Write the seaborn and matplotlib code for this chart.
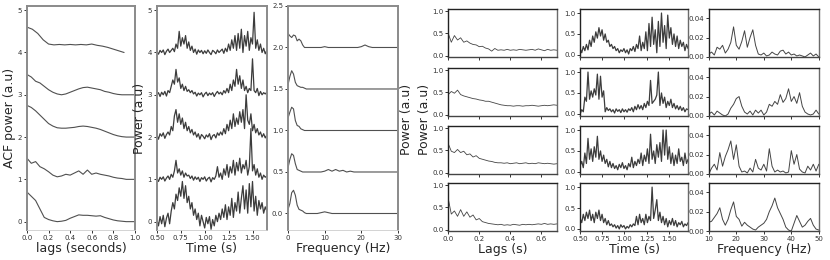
import numpy as np
import pandas as pd
import matplotlib
matplotlib.use("Agg")
import matplotlib.pyplot as plt
import seaborn as sns

# ---------------- data ----------------
# left group, panel 1: autocorrelation, 5 stacked traces (offset 0..4)
acf_0 = [0.70, 0.60, 0.50, 0.30, 0.10, 0.05, 0.02, 0.00, 0.01, 0.03, 0.08, 0.12, 0.16,
         0.15, 0.15, 0.14, 0.13, 0.14, 0.10, 0.07, 0.04, 0.02, 0.01, 0.00, 0.00, 0.00]
acf_1 = [0.50, 0.38, 0.42, 0.30, 0.25, 0.18, 0.10, 0.06, 0.08, 0.12, 0.10, 0.15, 0.20,
         0.12, 0.22, 0.12, 0.15, 0.12, 0.10, 0.08, 0.05, 0.03, 0.02, 0.00, 0.00, 0.00]
acf_2 = [0.75, 0.70, 0.62, 0.52, 0.42, 0.32, 0.26, 0.22, 0.21, 0.21, 0.22, 0.23, 0.25,
         0.26, 0.25, 0.23, 0.21, 0.18, 0.14, 0.10, 0.06, 0.03, 0.01, 0.00, 0.00, 0.00]
acf_3 = [0.48, 0.42, 0.32, 0.28, 0.20, 0.12, 0.06, 0.02, 0.00, 0.02, 0.06, 0.10, 0.14,
         0.17, 0.18, 0.16, 0.14, 0.12, 0.08, 0.06, 0.03, 0.01, 0.00, 0.00, 0.00, 0.00]
acf_4 = [0.60, 0.55, 0.45, 0.30, 0.20, 0.18, 0.19, 0.18, 0.19, 0.18, 0.19, 0.18, 0.20,
         0.17, 0.15, 0.12, 0.08, 0.04, 0.00]

# left group, panel 2: power over time, 5 stacked traces
pow_0 = [0.05, -0.10, 0.12, -0.05, 0.15, -0.12, 0.08, 0.20, -0.05, 0.25,
         0.45, 0.30, 0.65, 0.50, 0.80, 0.60, 0.95, 0.55, 0.85, 0.45,
         0.60, 0.30, 0.45, 0.15, 0.30, 0.05, 0.20, -0.10, 0.15, 0.00,
         -0.15, 0.10, -0.05, 0.12, -0.18, 0.05, -0.10, 0.15, 0.00, 0.20,
         0.05, 0.30, 0.10, 0.40, 0.05, 0.35, 0.15, 0.55, 0.10, 0.45,
         0.25, 0.70, 0.20, 0.55, 0.85, 0.30, 0.75, 0.20, 0.90, 0.35,
         0.95, 0.25, 0.60, 0.15, 0.50, 0.30, 0.45, 0.20, 0.35, 0.25]
pow_1 = [0.02, -0.05, 0.05, 0.00, 0.06, -0.04, 0.03, 0.08, 0.00, 0.12,
         0.05, 0.20, 0.45, 0.15, 0.25, 0.10, 0.20, 0.05, 0.15, 0.08,
         0.10, 0.02, 0.08, -0.02, 0.06, 0.00, 0.05, -0.05, 0.04, 0.00,
         0.06, -0.04, 0.02, 0.05, -0.06, 0.04, 0.00, 0.08, 0.30, 0.05,
         0.15, 0.00, 0.25, 0.10, 0.35, 0.05, 0.30, 0.15, 0.45, 0.10,
         0.40, 0.20, 0.50, 0.15, 0.35, 0.25, 0.45, 0.10, 0.30, 1.20,
         0.20, 0.35, 0.10, 0.25, 0.05, 0.15, 0.00, 0.10, 0.05, 0.08]
pow_2 = [0.05, -0.05, 0.08, 0.02, 0.10, -0.03, 0.06, 0.12, 0.05, 0.25,
         0.15, 0.50, 0.65, 0.35, 0.55, 0.30, 0.45, 0.20, 0.35, 0.15,
         0.25, 0.10, 0.18, 0.05, 0.12, 0.00, 0.08, -0.05, 0.06, 0.02,
         -0.04, 0.05, 0.00, 0.08, -0.06, 0.03, 0.06, -0.02, 0.10, 0.04,
         0.12, 0.05, 0.20, 0.08, 0.30, 0.15, 0.40, 0.20, 0.55, 0.25,
         0.45, 0.30, 0.60, 0.35, 0.65, 0.20, 1.00, 0.40, 0.30, 0.55,
         0.15, 0.30, 0.10, 0.20, 0.05, 0.12, 0.00, 0.08, -0.02, 0.05]
pow_3 = [0.00, 0.05, -0.04, 0.06, 0.00, 0.08, -0.03, 0.10, 0.05, 0.20,
         0.35, 0.25, 0.60, 0.30, 0.40, 0.15, 0.25, 0.10, 0.20, 0.08,
         0.12, 0.05, 0.10, 0.02, 0.06, -0.03, 0.04, 0.00, 0.05, -0.05,
         0.02, 0.06, -0.02, 0.04, 0.00, 0.05, -0.04, 0.03, 0.08, 0.02,
         0.06, 0.00, 0.10, 0.04, 0.15, 0.05, 0.25, 0.10, 0.35, 0.20,
         0.60, 0.25, 0.45, 0.15, 0.35, 0.10, 0.20, 0.05, 0.15, 0.10,
         0.85, 0.10, 0.05, 0.15, -0.02, 0.08, 0.00, 0.05, 0.02, 0.06]
pow_4 = [0.02, -0.04, 0.05, 0.00, 0.06, -0.05, 0.03, 0.08, 0.00, 0.05,
         0.10, 0.02, 0.20, 0.10, 0.50, 0.15, 0.35, 0.20, 0.40, 0.10,
         0.25, 0.05, 0.15, 0.00, 0.08, -0.04, 0.06, 0.00, 0.05, -0.03,
         0.04, -0.02, 0.06, 0.00, -0.05, 0.05, 0.02, -0.03, 0.06, 0.00,
         0.04, 0.08, -0.02, 0.10, 0.02, 0.20, 0.05, 0.30, 0.10, 0.40,
         0.05, 0.45, 0.10, 0.55, 0.00, 0.40, 0.15, 0.50, 0.05, 0.35,
         0.20, 0.95, 0.10, 0.30, 0.05, 0.20, 0.00, 0.10, -0.03, 0.05]

# left group, panel 3: spectra, 5 stacked traces (offset 0..2 by 0.5)
freq_left = [0, 0.5, 1, 1.5, 2, 2.5, 3, 3.5, 4, 4.5, 5, 6, 7, 8, 9, 10, 11, 12,
             13, 14, 15, 16, 17, 18, 19, 20, 21, 22, 23, 24, 25, 26, 27, 28, 29, 30]
spec_0 = [0.05, 0.12, 0.25, 0.28, 0.22, 0.10, 0.05, 0.04, 0.03, 0.01, 0.00, 0.00,
          0.00, 0.00, 0.01, 0.02, 0.01, 0.00, 0.00, 0.00, 0.00, 0.00, 0.00, 0.00,
          0.00, 0.00, 0.00, 0.00, 0.00, 0.00, 0.00, 0.00, 0.00, 0.00, 0.00, 0.00]
spec_1 = [0.05, 0.15, 0.22, 0.20, 0.10, 0.03, 0.02, 0.01, 0.00, 0.00, 0.00, 0.00,
          0.00, 0.00, 0.00, 0.01, 0.03, 0.01, 0.03, 0.01, 0.02, 0.00, 0.01, 0.00,
          0.00, 0.00, 0.00, 0.00, 0.00, 0.00, 0.00, 0.00, 0.00, 0.00, 0.00, 0.00]
spec_2 = [0.15, 0.22, 0.28, 0.26, 0.12, 0.06, 0.05, 0.02, 0.01, 0.00, 0.00, 0.00,
          0.00, 0.00, 0.00, 0.00, 0.00, 0.00, 0.00, 0.00, 0.00, 0.00, 0.00, 0.00,
          0.00, 0.00, 0.00, 0.00, 0.00, 0.00, 0.00, 0.00, 0.00, 0.00, 0.00, 0.00]
spec_3 = [0.05, 0.15, 0.22, 0.18, 0.08, 0.04, 0.03, 0.02, 0.02, 0.01, 0.00, 0.00,
          0.00, 0.00, 0.00, 0.00, 0.00, 0.00, 0.00, 0.00, 0.00, 0.00, 0.00, 0.00,
          0.00, 0.00, 0.00, 0.00, 0.00, 0.00, 0.00, 0.00, 0.00, 0.00, 0.00, 0.00]
spec_4 = [0.17, 0.14, 0.12, 0.15, 0.14, 0.08, 0.10, 0.08, 0.03, 0.00, 0.00, 0.00,
          0.00, 0.00, 0.00, 0.01, 0.00, 0.00, 0.00, 0.00, 0.00, 0.00, 0.00, 0.00,
          0.00, 0.01, 0.03, 0.01, 0.00, 0.00, 0.00, 0.00, 0.00, 0.00, 0.00, 0.00]

# right group, column 1: ACF per row
lag_r1 = [0.50, 0.30, 0.45, 0.35, 0.40, 0.30, 0.33, 0.28, 0.25, 0.24, 0.20, 0.21,
          0.17, 0.15, 0.10, 0.16, 0.12, 0.13, 0.12, 0.14, 0.12, 0.13, 0.12, 0.14,
          0.13, 0.12, 0.13, 0.14, 0.12, 0.15, 0.13, 0.11, 0.14, 0.12, 0.13, 0.12]
lag_r2 = [0.45, 0.52, 0.48, 0.55, 0.45, 0.42, 0.40, 0.38, 0.36, 0.35, 0.33, 0.32,
          0.30, 0.30, 0.28, 0.26, 0.24, 0.22, 0.21, 0.20, 0.20, 0.19, 0.20, 0.20,
          0.19, 0.20, 0.20, 0.21, 0.20, 0.19, 0.20, 0.21, 0.20, 0.21, 0.22, 0.21]
lag_r3 = [0.65, 0.48, 0.45, 0.52, 0.45, 0.48, 0.40, 0.42, 0.35, 0.38, 0.32, 0.30,
          0.28, 0.26, 0.25, 0.23, 0.22, 0.22, 0.21, 0.22, 0.20, 0.21, 0.22, 0.20,
          0.21, 0.22, 0.20, 0.21, 0.20, 0.22, 0.21, 0.20, 0.21, 0.20, 0.19, 0.20]
lag_r4 = [0.70, 0.35, 0.42, 0.30, 0.45, 0.30, 0.40, 0.28, 0.33, 0.22, 0.25, 0.18,
          0.16, 0.14, 0.13, 0.12, 0.11, 0.12, 0.10, 0.11, 0.10, 0.12, 0.11, 0.10,
          0.12, 0.11, 0.12, 0.11, 0.12, 0.13, 0.12, 0.14, 0.12, 0.13, 0.12, 0.13]

# right group, column 2: power over time per row
time_r1 = [0.15, 0.05, 0.20, 0.10, 0.25, 0.12, 0.35, 0.20, 0.45, 0.30,
           0.55, 0.40, 0.65, 0.45, 0.60, 0.35, 0.50, 0.30, 0.35, 0.20,
           0.25, 0.15, 0.20, 0.10, 0.15, 0.05, 0.12, 0.08, 0.15, 0.05,
           0.12, 0.02, 0.15, 0.10, 0.20, 0.08, 0.25, 0.15, 0.45, 0.10,
           0.30, 0.15, 0.55, 0.10, 0.75, 0.20, 0.90, 0.25, 0.60, 0.05,
           0.80, 0.20, 1.00, 0.30, 0.70, 0.15, 0.95, 0.40, 0.65, 0.25,
           0.50, 0.20, 0.45, 0.15, 0.35, 0.20, 0.30, 0.10, 0.25, 0.15]
time_r2 = [0.00, 0.10, 0.05, 0.40, 0.30, 1.00, 0.35, 0.55, 0.40, 0.60,
           0.45, 0.95, 0.35, 0.90, 0.40, 0.55, 0.05, 0.15, 0.08, 0.12,
           0.05, 0.10, 0.02, 0.12, 0.06, 0.10, 0.03, 0.12, 0.05, 0.10,
           0.04, 0.12, 0.08, 0.15, 0.05, 0.18, 0.10, 0.22, 0.12, 0.20,
           0.10, 0.25, 0.15, 0.30, 0.20, 0.80, 0.25, 0.30, 0.35, 0.45,
           1.00, 0.20, 0.50, 0.25, 0.40, 0.15, 0.30, 0.20, 0.35, 0.15,
           0.25, 0.12, 0.20, 0.10, 0.18, 0.08, 0.15, 0.05, 0.12, 0.10]
time_r3 = [0.15, 0.25, 0.10, 0.45, 0.20, 0.80, 0.30, 0.55, 0.25, 0.60,
           0.35, 0.85, 0.30, 0.50, 0.25, 0.40, 0.20, 0.30, 0.12, 0.25,
           0.10, 0.20, 0.08, 0.15, 0.05, 0.18, 0.10, 0.22, 0.08, 0.15,
           0.05, 0.20, 0.12, 0.35, 0.10, 0.25, 0.15, 0.30, 0.20, 0.45,
           0.15, 0.40, 0.25, 0.55, 0.20, 0.90, 0.30, 0.50, 0.20, 0.65,
           0.35, 0.70, 0.25, 1.00, 0.40, 1.00, 0.30, 0.60, 0.20, 0.45,
           0.15, 0.40, 0.20, 0.55, 0.25, 0.35, 0.15, 0.45, 0.20, 0.30]
time_r4 = [0.25, 0.15, 0.35, 0.20, 0.40, 0.25, 0.45, 0.20, 0.35, 0.15,
           0.40, 0.25, 0.45, 0.20, 0.35, 0.15, 0.25, 0.10, 0.20, 0.08,
           0.12, 0.05, 0.10, 0.02, 0.08, 0.00, 0.10, 0.04, 0.08, 0.00,
           0.06, 0.02, 0.10, 0.05, 0.12, 0.08, 0.30, 0.10, 0.35, 0.15,
           0.25, 0.10, 0.35, 0.15, 0.30, 0.20, 1.00, 0.25, 0.45, 0.70,
           0.20, 0.40, 0.15, 0.30, 0.10, 0.25, 0.05, 0.20, 0.10, 0.25,
           0.08, 0.20, 0.05, 0.15, 0.10, 0.18, 0.05, 0.12, 0.08, 0.15]

# right group, column 3: spectra 10-50 Hz per row (1 Hz steps)
spec_r1 = [0.003, 0.005, 0.002, 0.010, 0.008, 0.012, 0.004, 0.008, 0.015, 0.031,
           0.012, 0.008, 0.016, 0.027, 0.010, 0.020, 0.028, 0.012, 0.003, 0.002,
           0.004, 0.001, 0.002, 0.005, 0.003, 0.002, 0.006, 0.007, 0.003, 0.005,
           0.002, 0.003, 0.001, 0.002, 0.001, 0.000, 0.002, 0.004, 0.001, 0.003, 0.000]
spec_r2 = [0.002, 0.004, 0.001, 0.005, 0.003, 0.001, 0.000, 0.002, 0.008, 0.012,
           0.018, 0.020, 0.010, 0.004, 0.002, 0.005, 0.001, 0.006, 0.003, 0.006,
           0.001, 0.004, 0.012, 0.010, 0.015, 0.012, 0.022, 0.014, 0.018, 0.028,
           0.015, 0.020, 0.013, 0.024, 0.010, 0.004, 0.002, 0.001, 0.002, 0.006, 0.002]
spec_r3 = [0.000, 0.006, 0.010, 0.004, 0.022, 0.008, 0.018, 0.025, 0.034, 0.015,
           0.030, 0.008, 0.002, 0.003, 0.001, 0.006, 0.002, 0.015, 0.006, 0.004,
           0.010, 0.003, 0.026, 0.008, 0.002, 0.004, 0.002, 0.003, 0.001, 0.002,
           0.024, 0.010, 0.020, 0.005, 0.002, 0.001, 0.008, 0.004, 0.010, 0.003, 0.010]
spec_r4 = [0.009, 0.010, 0.014, 0.018, 0.024, 0.012, 0.006, 0.012, 0.022, 0.030,
           0.015, 0.012, 0.005, 0.009, 0.006, 0.004, 0.002, 0.001, 0.004, 0.006,
           0.008, 0.012, 0.020, 0.026, 0.034, 0.024, 0.018, 0.012, 0.004, 0.001,
           0.000, 0.008, 0.016, 0.010, 0.004, 0.006, 0.010, 0.013, 0.006, 0.002, 0.001]

# ---------------- plotting ----------------
sns.set_theme(style="ticks")
plt.rcParams['font.family'] = ['DejaVu Sans']

fig = plt.figure(figsize=(8.3, 2.6), dpi=100)

tick_fs = 5
label_fs = 9
grey_line = "#505050"
dark_line = "#3c3c3c"


def style_axes(ax, group):
    ax.tick_params(axis='both', labelsize=tick_fs, length=2, width=0.7, pad=1.5,
                   colors="#333333")
    for side, sp in ax.spines.items():
        sp.set_linewidth(1.0)
    if group == "left":
        for side in ['left', 'right', 'top']:
            ax.spines[side].set_color("#8a8a8a")
            ax.spines[side].set_linewidth(1.4)
        ax.spines['bottom'].set_color("#cccccc")
        ax.spines['bottom'].set_linewidth(0.6)
    else:
        ax.spines['top'].set_color("#222222")
        ax.spines['left'].set_color("#222222")
        ax.spines['bottom'].set_color("#444444")
        ax.spines['right'].set_color("#6a6a6a")


def stacked(ax, x, traces, offsets, color, lw):
    for tr, off in zip(traces, offsets):
        df = pd.DataFrame({'x': x[:len(tr)], 'y': np.array(tr) + off})
        sns.lineplot(data=df, x='x', y='y', ax=ax, color=color, linewidth=lw)
    ax.set_xlabel('')
    ax.set_ylabel('')


# --- left group ---
ax1 = fig.add_axes([0.0325, 0.115, 0.130, 0.862])
lags = np.linspace(0, 1, len(acf_0))
stacked(ax1, lags, [acf_0, acf_1, acf_2, acf_3], [0, 1, 2, 3], grey_line, 0.8)
stacked(ax1, np.linspace(0, 0.9, len(acf_4)), [acf_4], [4], grey_line, 0.8)
ax1.set_xlim(0, 1)
ax1.set_ylim(-0.2, 5.1)
ax1.set_xticks([0.0, 0.2, 0.4, 0.6, 0.8, 1.0])
ax1.set_xticklabels(['0.0', '0.2', '0.4', '0.6', '0.8', '1.0'])
ax1.set_yticks([0, 1, 2, 3, 4, 5])
ax1.set_xlabel('lags (seconds)', fontsize=label_fs, labelpad=1)
ax1.set_ylabel('ACF power (a.u)', fontsize=label_fs, labelpad=1)
style_axes(ax1, "left")

ax2 = fig.add_axes([0.189, 0.115, 0.1325, 0.862])
t_left = np.linspace(0.5, 1.65, len(pow_0))
stacked(ax2, t_left, [pow_0, pow_1, pow_2, pow_3, pow_4], [0, 1, 2, 3, 4], dark_line, 0.9)
ax2.set_xlim(0.5, 1.65)
ax2.set_ylim(-0.2, 5.1)
ax2.set_xticks([0.5, 0.75, 1.0, 1.25, 1.5])
ax2.set_xticklabels(['0.50', '0.75', '1.00', '1.25', '1.50'])
ax2.set_yticks([0, 1, 2, 3, 4, 5])
ax2.set_xlabel('Time (s)', fontsize=label_fs, labelpad=1)
ax2.set_ylabel('Power (a.u)', fontsize=label_fs, labelpad=1)
style_axes(ax2, "left")

ax3 = fig.add_axes([0.347, 0.115, 0.1325, 0.862])
stacked(ax3, np.array(freq_left), [spec_0, spec_1, spec_2, spec_3, spec_4],
        [0, 0.5, 1.0, 1.5, 2.0], grey_line, 0.8)
ax3.set_xlim(0, 30)
ax3.set_ylim(-0.2, 2.5)
ax3.set_xticks([0, 10, 20, 30])
ax3.set_yticks([0.0, 0.5, 1.0, 1.5, 2.0, 2.5])
ax3.set_yticklabels(['0.0', '0.5', '1.0', '1.5', '2.0', '2.5'])
ax3.set_xlabel('Frequency (Hz)', fontsize=label_fs, labelpad=1)
style_axes(ax3, "left")

# --- right group: 4 rows x 3 columns ---
col_left = [0.540, 0.699, 0.854]
col_w = [0.131, 0.130, 0.1325]
row_bottom = [0.781, 0.554, 0.331, 0.1115]
row_h = 0.185

lag_rows = [lag_r1, lag_r2, lag_r3, lag_r4]
time_rows = [time_r1, time_r2, time_r3, time_r4]
spec_rows = [spec_r1, spec_r2, spec_r3, spec_r4]

for r in range(4):
    last = (r == 3)

    a = fig.add_axes([col_left[0], row_bottom[r], col_w[0], row_h])
    stacked(a, np.linspace(0, 0.7, len(lag_rows[r])), [lag_rows[r]], [0], "#444444", 0.6)
    a.set_xlim(0, 0.7)
    a.set_ylim(-0.03, 1.05)
    a.set_xticks([0.0, 0.2, 0.4, 0.6])
    a.set_xticklabels(['0.0', '0.2', '0.4', '0.6'] if last else [])
    a.set_yticks([0.0, 0.5, 1.0])
    a.set_yticklabels(['0.0', '0.5', '1.0'])
    if last:
        a.set_xlabel('Lags (s)', fontsize=label_fs, labelpad=1)
    style_axes(a, "right")

    b = fig.add_axes([col_left[1], row_bottom[r], col_w[1], row_h])
    stacked(b, np.linspace(0.5, 1.72, len(time_rows[r])), [time_rows[r]], [0], dark_line, 0.9)
    b.set_xlim(0.5, 1.72)
    b.set_ylim(-0.05, 1.1)
    b.set_xticks([0.5, 0.75, 1.0, 1.25, 1.5])
    b.set_xticklabels(['0.50', '0.75', '1.00', '1.25', '1.50'] if last else [])
    b.set_yticks([0.0, 0.5, 1.0])
    b.set_yticklabels(['0.0', '0.5', '1.0'])
    if last:
        b.set_xlabel('Time (s)', fontsize=label_fs, labelpad=1)
    style_axes(b, "right")

    c = fig.add_axes([col_left[2], row_bottom[r], col_w[2], row_h])
    stacked(c, np.linspace(10, 50, len(spec_rows[r])), [spec_rows[r]], [0], "#444444", 0.7)
    c.set_xlim(10, 50)
    c.set_ylim(0, 0.0496)
    c.set_xticks([10, 20, 30, 40, 50])
    c.set_xticklabels(['10', '20', '30', '40', '50'] if last else [])
    c.set_yticks([0.0, 0.02, 0.04])
    c.set_yticklabels(['0.00', '0.02', '0.04'])
    if last:
        c.set_xlabel('Frequency (Hz)', fontsize=label_fs, labelpad=1)
    style_axes(c, "right")

# two overlapping y labels of the right group
fig.text(0.490, 0.54, 'Power (a.u)', rotation=90, ha='center', va='center', fontsize=label_fs)
fig.text(0.511, 0.54, 'Power (a.u)', rotation=90, ha='center', va='center', fontsize=label_fs)

fig.savefig('out.png', dpi=100)
